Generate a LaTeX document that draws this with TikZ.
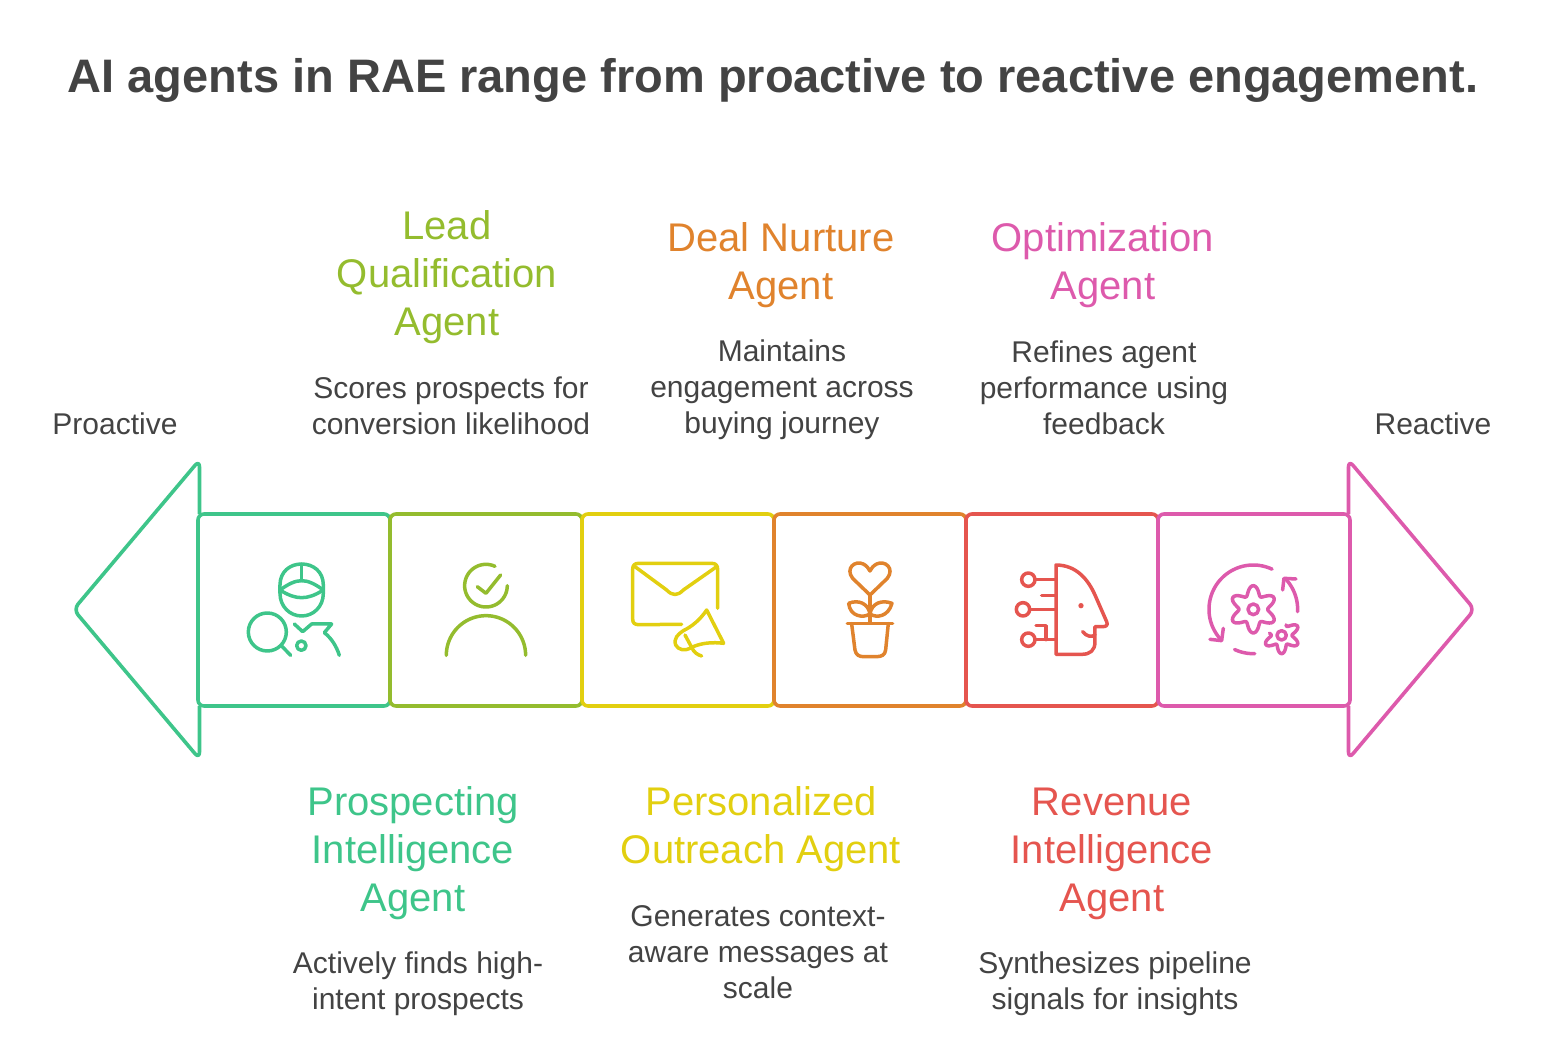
\documentclass[tikz,border=0pt]{standalone}
\usepackage{fontspec}
\setmainfont{Liberation Sans}
\definecolor{cprospect}{RGB}{62,197,138}
\definecolor{clead}{RGB}{148,188,46}
\definecolor{coutreach}{RGB}{226,207,16}
\definecolor{cnurture}{RGB}{224,131,45}
\definecolor{crevenue}{RGB}{229,85,79}
\definecolor{coptim}{RGB}{221,90,172}
\definecolor{ctext}{RGB}{67,67,67}
\tikzset{
  agentbox/.style={draw,rounded corners=6pt,minimum size=192pt,inner sep=0pt,line width=3.6pt},
  endtip/.style={line width=3.6pt,rounded corners=7pt,line join=round},
  icon/.style={line width=3.5pt,line cap=round,line join=round},
  zoomed/.style={shift={(#1)},x=0.3333pt,y=-0.3333pt},
  headtext/.style={font=\fontsize{40}{48}\selectfont,align=center},
  bodytext/.style={font=\fontsize{30}{36}\selectfont,align=center,text=ctext}
}
\begin{document}
\begin{tikzpicture}[x=1pt,y=-1pt]
    \useasboundingbox (0,0) rectangle (1543,1042);
    \node[font=\fontsize{47}{56}\selectfont\bfseries,text=ctext] (title) at (773,80) {AI agents in RAE range from proactive to reactive engagement.};
    % end tips
    \draw[endtip,cprospect] (199.5,514) -- (199.5,460) -- (73.5,609.5) -- (199.5,759) -- (199.5,706);
    \draw[endtip,coptim] (1348.5,514) -- (1348.5,460) -- (1474.5,609.5) -- (1348.5,759) -- (1348.5,706);
    % boxes
    \node[agentbox,draw=cprospect] (boxprospect) at (294,610) {};
    \node[agentbox,draw=clead] (boxlead) at (486,610) {};
    \node[agentbox,draw=coutreach] (boxoutreach) at (678,610) {};
    \node[agentbox,draw=cnurture] (boxnurture) at (870,610) {};
    \node[agentbox,draw=crevenue] (boxrevenue) at (1062,610) {};
    \node[agentbox,draw=coptim] (boxoptim) at (1254,610) {};
    % end labels
    \node[bodytext] (proactive) at (115,424) {Proactive};
    \node[bodytext] (reactive) at (1433,424) {Reactive};
    % upper labels
    \node[headtext,text=clead] (leadname) at (447,277) {Lead\\Qualification\\Agent};
    \node[bodytext] (leadtext) at (451,406) {Scores prospects for\\conversion likelihood};
    \node[headtext,text=cnurture] (nurturename) at (781,265) {Deal Nurture\\Agent};
    \node[bodytext] (nurturetext) at (782,390) {Maintains\\engagement across\\buying journey};
    \node[headtext,text=coptim] (optimname) at (1103,265) {Optimization\\Agent};
    \node[bodytext] (optimtext) at (1104,388) {Refines agent\\performance using\\feedback};
    % lower labels
    \node[headtext,text=cprospect] (prospectname) at (413,853) {Prospecting\\Intelligence\\Agent};
    \node[bodytext] (prospecttext) at (418,984) {Actively finds high-\\intent prospects};
    \node[headtext,text=coutreach] (outreachname) at (761,829) {Personalized\\Outreach Agent};
    \node[bodytext] (outreachtext) at (758,952) {Generates context-\\aware messages at\\scale};
    \node[headtext,text=crevenue] (revenuename) at (1112,854) {Revenue\\Intelligence\\Agent};
    \node[bodytext] (revenuetext) at (1115,984) {Synthesizes pipeline\\signals for insights};
    % prospecting icon
    \begin{scope}[zoomed={190,510},icon,cprospect]
      \draw (270,225) .. controls (270,185) and (300,162) .. (335,162) .. controls (370,162) and (400,185) .. (400,225) -- (400,250) .. controls (400,290) and (370,318) .. (335,318) .. controls (300,318) and (270,290) .. (270,250) -- cycle;
      \draw (270,240) .. controls (295,222) and (315,212) .. (335,212) .. controls (355,212) and (375,222) .. (400,240);
      \draw (270,240) .. controls (295,256) and (315,263) .. (335,263) .. controls (355,263) and (375,256) .. (400,240);
      \draw (335,162) -- (335,212);
      \draw (232,366) circle (57);
      \draw (275,408) -- (302,436);
      \draw (313,342) -- (338,365) -- (365,342) -- (425,342) -- (403,368) .. controls (425,385) and (440,410) .. (448,436);
      \draw (334,407) circle (14);
    \end{scope}
    % lead icon
    \begin{scope}[zoomed={190,510},icon,clead]
      \draw plot[domain=65:360,samples=50] ({888+64*cos(\x)},{227-64*sin(\x)});
      \draw (862,230) -- (888,250) -- (932,195);
      \draw plot[domain=0:180,samples=50] ({888+119*cos(\x)},{436-119*sin(\x)});
    \end{scope}
    % outreach icon
    \begin{scope}[zoomed={580,510},icon,coutreach]
      \draw (413,295) -- (413,178) .. controls (413,166) and (407,160) .. (395,160) -- (176,160) .. controls (164,160) and (158,166) .. (158,178) -- (158,327) .. controls (158,339) and (164,344) .. (176,344) -- (305,343);
      \draw (165,170) -- (260,240) .. controls (277,258) and (293,258) .. (310,240) -- (410,170);
      \draw (380,300) -- (431,400) .. controls (400,396) and (365,398) .. (335,412) .. controls (315,425) and (295,420) .. (287,405) .. controls (280,385) and (295,372) .. (310,362) .. controls (335,350) and (360,330) .. (380,300) -- cycle;
      \draw (315,375) -- (335,412) .. controls (342,428) and (352,434) .. (365,438);
    \end{scope}
    % nurture icon
    \begin{scope}[zoomed={580,510},icon,cnurture]
      \draw (870,255) -- (818,205) .. controls (795,175) and (825,150) .. (850,162) .. controls (860,167) and (866,175) .. (870,183) .. controls (874,175) and (880,167) .. (890,162) .. controls (915,150) and (945,175) .. (922,205) -- cycle;
      \draw (870,255) -- (870,338);
      \draw (870,312) .. controls (850,325) and (810,320) .. (806,280) .. controls (835,268) and (865,280) .. (870,312);
      \draw (870,312) .. controls (890,325) and (925,320) .. (936,280) .. controls (905,268) and (875,280) .. (870,312);
      \draw (802,341) -- (938,341);
      \draw (815,341) -- (825,420) .. controls (828,435) and (838,440) .. (850,440) -- (890,440) .. controls (905,440) and (915,435) .. (917,420) -- (925,341);
    \end{scope}
    % revenue icon
    \begin{scope}[zoomed={960,510},icon,crevenue]
      \draw (288,165) .. controls (350,165) and (385,210) .. (405,255) -- (440,335) .. controls (445,346) and (438,350) .. (428,350) -- (405,350) -- (405,395) .. controls (405,422) and (390,433) .. (365,433) -- (288,433) -- cycle;
      \fill (363,287) circle (8);
      \draw (368,365) .. controls (380,380) and (395,382) .. (405,375);
      \draw (205,209) circle (20);
      \draw (225,209) -- (288,209);
      \draw (245,257) -- (288,257);
      \draw (189,298) circle (20);
      \draw (210,298) -- (288,298);
      \draw (205,389) circle (20);
      \draw (225,389) -- (288,389);
      \draw (228,347) -- (258,347) -- (258,389);
    \end{scope}
    % optimization icon
    \begin{scope}[zoomed={960,510},icon,coptim]
      \draw plot[domain=0:360,samples=90,smooth cycle] ({880+(57+14*cos(6*(\x-90)))*cos(\x)},{298-(57+14*cos(6*(\x-90)))*sin(\x)});
      \draw (880,298) circle (16);
      \draw plot[domain=-190:67,samples=70] ({965+(43+12*cos(6*(\x-90)))*cos(\x)},{376-(43+12*cos(6*(\x-90)))*sin(\x)});
      \draw (965,376) circle (14);
      \draw plot[domain=65:224,samples=50] ({880+133*cos(\x)},{298-133*sin(\x)});
      \draw (790,355) -- (785,392) -- (750,388);
      \draw plot[domain=245:272,samples=12] ({880+133*cos(\x)},{298-133*sin(\x)});
      \draw plot[domain=-3:43,samples=20] ({880+133*cos(\x)},{298-133*sin(\x)});
      \draw (968,240) -- (972,205) -- (1008,207);
    \end{scope}
\end{tikzpicture}
\end{document}
